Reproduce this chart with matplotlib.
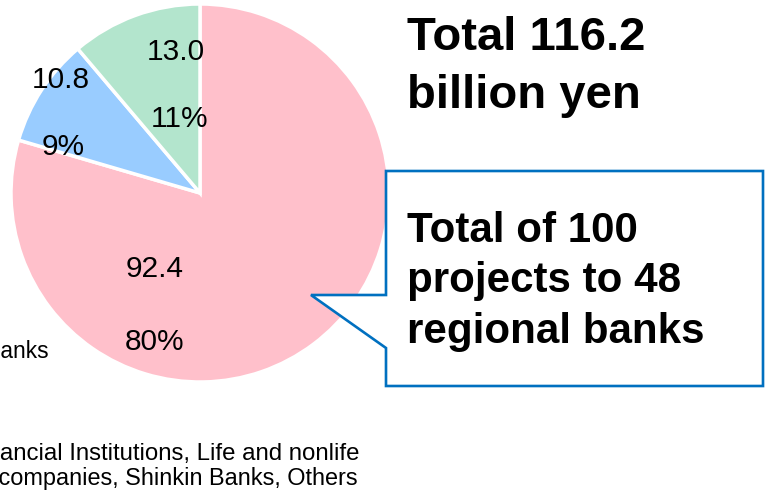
import matplotlib
matplotlib.use("Agg")
import matplotlib.pyplot as plt
from matplotlib.patches import Polygon

plt.rcParams['font.family'] = ['Liberation Sans', 'DejaVu Sans']

# Investment amounts (billion yen), clockwise from 12 o'clock
categories = ["Regional Banks", "Other Financial Institutions", "Shinkin Banks, Others"]
amounts = [92.4, 10.8, 13.0]
colors = ["#FFC0CB", "#99CCFF", "#B3E5CD"]

total_label = ["Total 116.2", "billion yen"]
callout_lines = ["Total of 100", "projects to 48", "regional banks"]
legend_lines = ["Regional Banks",
                "Other Financial Institutions, Life and nonlife",
                "insurance companies, Shinkin Banks, Others"]

W, H = 765, 492
fig = plt.figure(figsize=(W / 100, H / 100), dpi=100)
ax = fig.add_axes([0, 0, 1, 1])


def py(y):
    """Convert a top-down pixel row to the axes' y coordinate."""
    return H - y


cx, cy, r = 200, 193, 189
ax.pie(amounts, colors=colors, startangle=90, counterclock=False,
       center=(cx, py(cy)), radius=r, frame=True,
       wedgeprops=dict(edgecolor='white', linewidth=2.5))
ax.set_xlim(0, W)
ax.set_ylim(0, H)
ax.set_aspect('equal')
ax.axis('off')

total = sum(amounts)
pcts = [f"{round(a / total * 100)}%" for a in amounts]

# value / share label anchors (x, baseline y) per slice
value_pos = [(155, 277), (61, 88), (176, 60)]
pct_pos = [(155, 350), (63, 155), (180, 127)]
for a, p, (vx, vy), (qx, qy) in zip(amounts, pcts, value_pos, pct_pos):
    ax.text(vx, py(vy), f"{a:.1f}", ha='center', va='baseline', fontsize=21.5)
    ax.text(qx, py(qy), p, ha='center', va='baseline', fontsize=21.5)

# headline total
for line, base in zip(total_label, [50, 108]):
    ax.text(407, py(base), line, ha='left', va='baseline',
            fontsize=34, fontweight='bold')

# callout box with a pointer towards the pie
box = [(386, 171), (386, 295), (311, 295), (386, 348), (386, 386),
       (763, 386), (763, 171)]
ax.add_patch(Polygon([(x, py(y)) for x, y in box], closed=True,
                     facecolor='white', edgecolor='#0070C0',
                     linewidth=1.9, joinstyle='miter', zorder=5))
for line, base in zip(callout_lines, [242, 292, 343]):
    ax.text(407, py(base), line, ha='left', va='baseline',
            fontsize=30.3, fontweight='bold', zorder=6)

# legend text
ax.text(49, py(358), legend_lines[0], ha='right', va='baseline', fontsize=16.4)
ax.text(360, py(460), legend_lines[1], ha='right', va='baseline', fontsize=17.3)
ax.text(358, py(485), legend_lines[2], ha='right', va='baseline', fontsize=16.9)

fig.savefig("out.png", dpi=100)
